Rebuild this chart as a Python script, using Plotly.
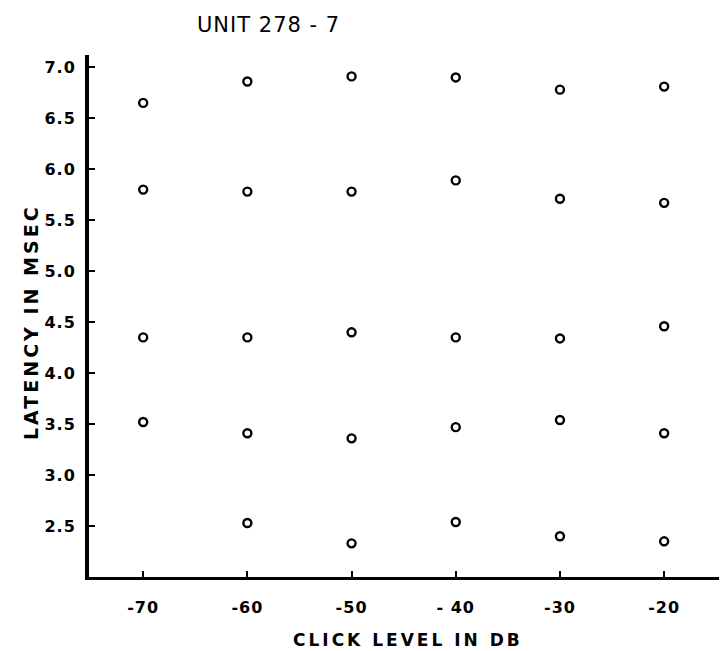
import plotly.graph_objects as go

# Data
click_levels = [-70, -60, -50, -40, -30, -20]
latency_row1 = [6.65, 6.86, 6.91, 6.90, 6.78, 6.81]
latency_row2 = [5.80, 5.78, 5.78, 5.89, 5.71, 5.67]
latency_row3 = [4.35, 4.35, 4.40, 4.35, 4.34, 4.46]
latency_row4 = [3.52, 3.41, 3.36, 3.47, 3.54, 3.41]
latency_row5 = [None, 2.53, 2.33, 2.54, 2.40, 2.35]

x_tick_vals = [-70, -60, -50, -40, -30, -20]
x_tick_text = ["-70", "-60", "-50", "- 40", "-30", "-20"]
y_tick_vals = [2.5, 3.0, 3.5, 4.0, 4.5, 5.0, 5.5, 6.0, 6.5, 7.0]
y_tick_text = ["2.5", "3.0", "3.5", "4.0", "4.5", "5.0", "5.5", "6.0", "6.5", "7.0"]

xs, ys = [], []
for row in [latency_row1, latency_row2, latency_row3, latency_row4, latency_row5]:
    for xv, yv in zip(click_levels, row):
        if yv is not None:
            xs.append(xv)
            ys.append(yv)

FONT = "DejaVu Sans"


def spaced(s, px):
    return '<span style="letter-spacing:%dpx">%s</span>' % (px, s)


fig = go.Figure()
fig.add_trace(go.Scatter(
    x=xs, y=ys, mode="markers",
    marker=dict(symbol="circle-open", size=8, color="black", line=dict(width=2.4, color="black")),
    showlegend=False, hoverinfo="skip",
))

fig.update_layout(
    width=727, height=651,
    margin=dict(l=81, r=0, t=47, b=82),
    paper_bgcolor="white", plot_bgcolor="white",
    font=dict(family=FONT, color="black"),
    xaxis=dict(
        range=[-75.2, -13.2], showgrid=False, zeroline=False,
        showline=True, linecolor="black", linewidth=3,
        ticks="inside", ticklen=6, tickwidth=2, tickcolor="black",
        tickvals=x_tick_vals, ticktext=[spaced(t, 1) for t in x_tick_text],
        tickfont=dict(family=FONT, size=16, weight="bold"),
        ticklabelstandoff=14,
    ),
    yaxis=dict(
        range=[2.0, 7.12], showgrid=False, zeroline=False,
        showline=True, linecolor="black", linewidth=4,
        ticks="inside", ticklen=6, tickwidth=2, tickcolor="black",
        tickvals=y_tick_vals, ticktext=[spaced(t, 1) for t in y_tick_text],
        tickfont=dict(family=FONT, size=16, weight="bold"),
        ticklabelstandoff=6,
    ),
    annotations=[
        dict(text=spaced("UNIT 278 - 7", 1), xref="paper", yref="paper", x=(260 - 81) / 646, y=1,
             xanchor="center", yanchor="middle", yshift=30, showarrow=False,
             font=dict(family=FONT, size=21)),
        dict(text=spaced("LATENCY IN MSEC", 3), xref="paper", yref="paper", x=0, y=(569 - 314) / 522,
             xanchor="center", yanchor="middle", xshift=-58, textangle=-90, showarrow=False,
             font=dict(family=FONT, size=19, weight="bold")),
        dict(text=spaced("CLICK LEVEL IN DB", 3), xref="paper", yref="paper", x=(400 - 81) / 646, y=0,
             xanchor="center", yanchor="middle", yshift=-63, showarrow=False,
             font=dict(family=FONT, size=17, weight="bold")),
    ],
)

fig.write_html("out.html")
